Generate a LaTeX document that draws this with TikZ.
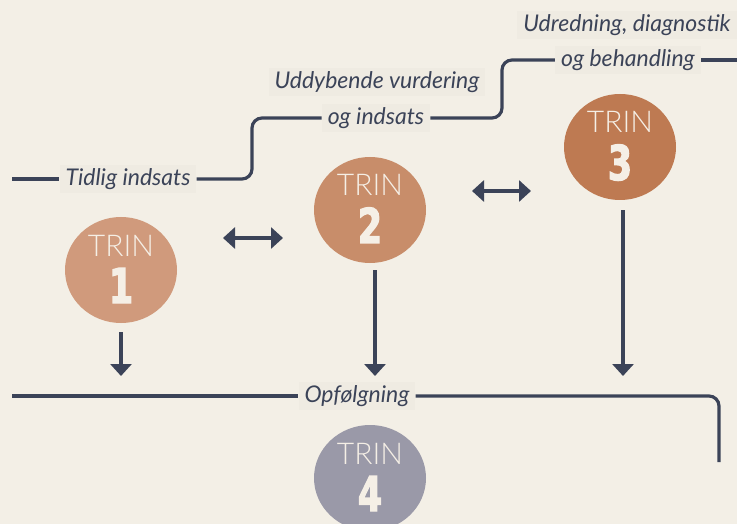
\documentclass[tikz,border=0pt]{standalone}
\usepackage{fontspec}
\setmainfont{Lato}
\newfontfamily\trinfont{Lato Light}
\newfontfamily\numfont[FakeStretch=0.72,FakeBold=2.5]{DejaVu Sans}
\usetikzlibrary{arrows.meta,shapes.geometric}
\definecolor{bg}{HTML}{F3EFE6}
\definecolor{boxc}{HTML}{EFEBE2}
\definecolor{ink}{HTML}{3B4358}
\definecolor{cream}{HTML}{F5EFE6}
\definecolor{cA}{HTML}{D09A7C}
\definecolor{cB}{HTML}{C88D6A}
\definecolor{cC}{HTML}{BE7A52}
\definecolor{cD}{HTML}{9A99A8}
\begin{document}
\begin{tikzpicture}[x=1pt,y=-1pt,
  lbl/.style={font=\itshape\fontsize{23}{25}\selectfont, text=ink, fill=boxc, inner xsep=6pt, inner ysep=3pt},
  ln/.style={draw=ink, line width=3.2pt, rounded corners=10pt},
  arr/.style={draw=ink, line width=3.2pt, -{Triangle[length=12pt,width=21pt]}},
  darr/.style={draw=ink, line width=3.2pt, {Triangle[length=12pt,width=21pt]}-{Triangle[length=12pt,width=21pt]}},
  trinc/.style={ellipse, minimum width=112pt, minimum height=106pt, inner sep=0pt},
  trintxt/.style={font=\trinfont\fontsize{30}{30}\selectfont, text=cream, anchor=base, inner sep=0pt},
  numtxt/.style={font=\numfont\bfseries\fontsize{48}{48}\selectfont, text=cream, anchor=base, inner sep=0pt}]
\fill[bg] (0,0) rectangle (737,524);
\useasboundingbox (0,0) rectangle (737,524);

% circles
\node[trinc, fill=cA] (c1) at (121,270) {};
\node[trinc, fill=cB] (c2) at (370,210) {};
\node[trinc, fill=cC] (c3) at (620,147) {};
\node[trinc, fill=cD] (c4) at (370,478) {};
\foreach \c/\n in {c1/1,c2/2,c3/3,c4/4}{
  \node[trintxt] (t\c) at ([yshift=14pt]\c.center) {TRIN};
  \node[numtxt] (n\c) at ([yshift=-33pt]\c.center) {\n};
}

% labels
\node[lbl] (tid) at (128,179) {Tidlig indsats};
\node[lbl] (udd) at (377,82) {Uddybende vurdering};
\node[lbl] (ogi) at (376,118) {og indsats};
\node[lbl] (udr) at (627,25) {Udredning, diagnostik};
\node[lbl] (ogb) at (628,60) {og behandling};
\node[lbl] (opf) at (357,396) {Opfølgning};

% coordinates
\coordinate (a0) at (12,179);
\coordinate (k1) at (252,150);
\coordinate (k2) at (502,90);
\coordinate (e3) at (737,60);
\coordinate (o0) at (12,396);
\coordinate (o1) at (719,462);

% connector lines
\draw[ln] (a0) -- (tid.west);
\draw[ln] (tid.east) -| (k1) |- (ogi.west);
\draw[ln] (ogi.east) -| (k2) |- (ogb.west);
\draw[ln] (ogb.east) -- (e3);
\draw[ln] (o0) -- (opf.west);
\draw[ln] (opf.east) -| (o1);

% double arrows
\coordinate (d1a) at (223,238);
\coordinate (d1b) at (283,238);
\coordinate (d2a) at (472,191);
\coordinate (d2b) at (531,191);
\draw[darr] (d1a) -- (d1b);
\draw[darr] (d2a) -- (d2b);

% down arrows
\coordinate (f1) at (121,376);
\coordinate (f2) at (375,376);
\coordinate (f3) at (623,376);
\draw[arr] ([yshift=-9pt]c1.south) -- (f1);
\draw[arr] (c2.south -| f2) ++(0,7) -- (f2);
\draw[arr] (c3.south -| f3) ++(0,10) -- (f3);
\end{tikzpicture}
\end{document}
